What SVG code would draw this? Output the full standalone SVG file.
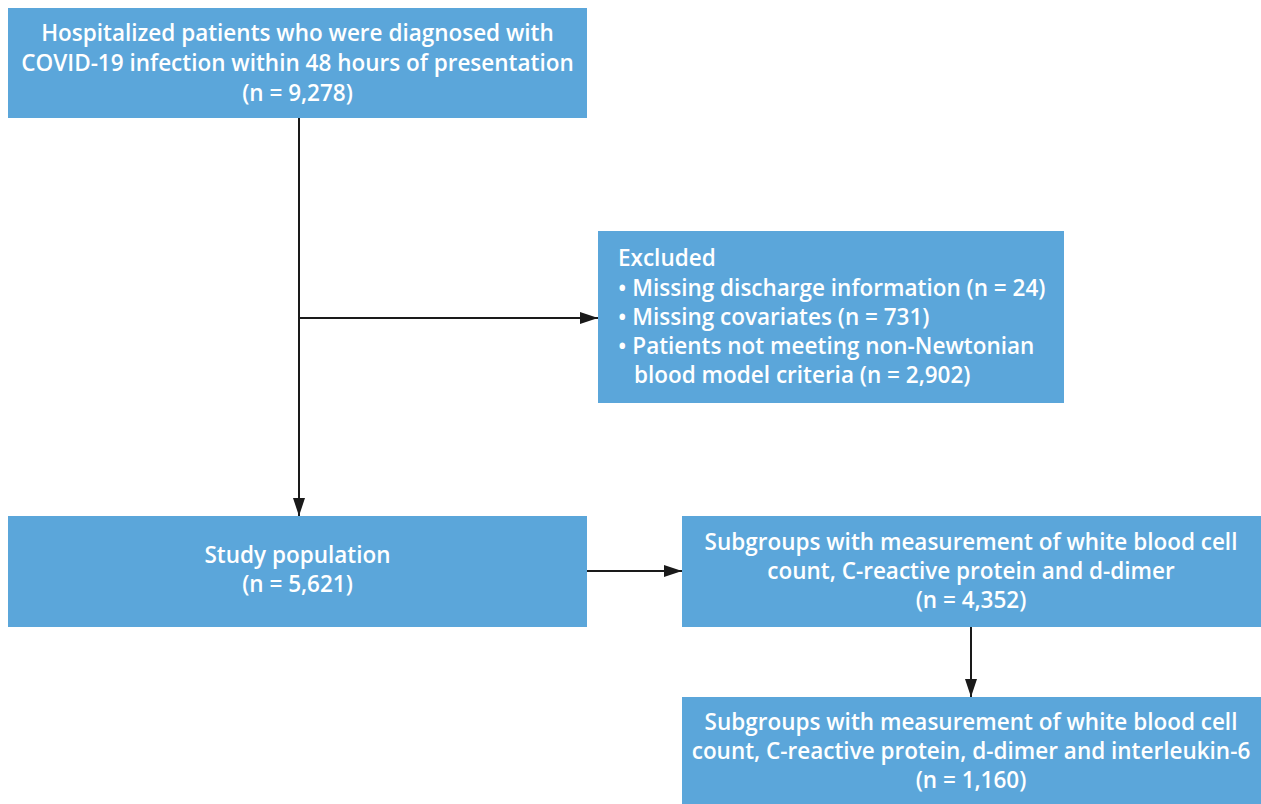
<svg xmlns="http://www.w3.org/2000/svg" width="1261" height="804" viewBox="0 0 1261 804">
<style>
.box{fill:#5BA6DA}
.t{font-family:"Open Sans","Liberation Sans",Arial,sans-serif;font-size:22.5px;font-weight:600;fill:#fff}
.c{text-anchor:middle}
.ln{stroke:#1a1a1a;stroke-width:2;fill:none}
</style>
<defs>
<marker id="ah" markerWidth="18" markerHeight="12" refX="18" refY="6" orient="auto" markerUnits="userSpaceOnUse">
<path d="M0,0 L18,6 L0,12 Z" fill="#1a1a1a"/>
</marker>
</defs>
<rect width="1261" height="804" fill="#fff"/>
<g id="connectors">
<path class="ln" d="M299,118 V516" marker-end="url(#ah)"/>
<path class="ln" d="M299,318 H598" marker-end="url(#ah)"/>
<path class="ln" d="M587,571 H682" marker-end="url(#ah)"/>
<path class="ln" d="M971,627 V697" marker-end="url(#ah)"/>
</g>
<g id="n1">
<rect class="box" x="8" y="8" width="579" height="110"/>
<text class="t c" x="297.5" y="41">Hospitalized patients who were diagnosed with</text>
<text class="t c" x="297.5" y="71">COVID-19 infection within 48 hours of presentation</text>
<text class="t c" x="297.5" y="101">(n = 9,278)</text>
</g>
<g id="excluded">
<rect class="box" x="598" y="231" width="466" height="172"/>
<text class="t" x="618" y="266">Excluded</text>
<text class="t" x="618" y="296">• Missing discharge information (n = 24)</text>
<text class="t" x="618" y="325">• Missing covariates (n = 731)</text>
<text class="t" x="618" y="354">• Patients not meeting non-Newtonian</text>
<text class="t" x="634" y="383">blood model criteria (n = 2,902)</text>
</g>
<g id="study">
<rect class="box" x="8" y="516" width="579" height="111"/>
<text class="t c" x="297.5" y="563">Study population</text>
<text class="t c" x="297.5" y="592">(n = 5,621)</text>
</g>
<g id="sub1">
<rect class="box" x="682" y="516" width="579" height="111"/>
<text class="t c" x="971" y="550">Subgroups with measurement of white blood cell</text>
<text class="t c" x="971" y="579">count, C-reactive protein and d-dimer</text>
<text class="t c" x="971" y="608">(n = 4,352)</text>
</g>
<g id="sub2">
<rect class="box" x="682" y="697" width="579" height="107"/>
<text class="t c" x="971" y="730">Subgroups with measurement of white blood cell</text>
<text class="t c" x="971" y="759">count, C-reactive protein, d-dimer and interleukin-6</text>
<text class="t c" x="971" y="788">(n = 1,160)</text>
</g>
</svg>
